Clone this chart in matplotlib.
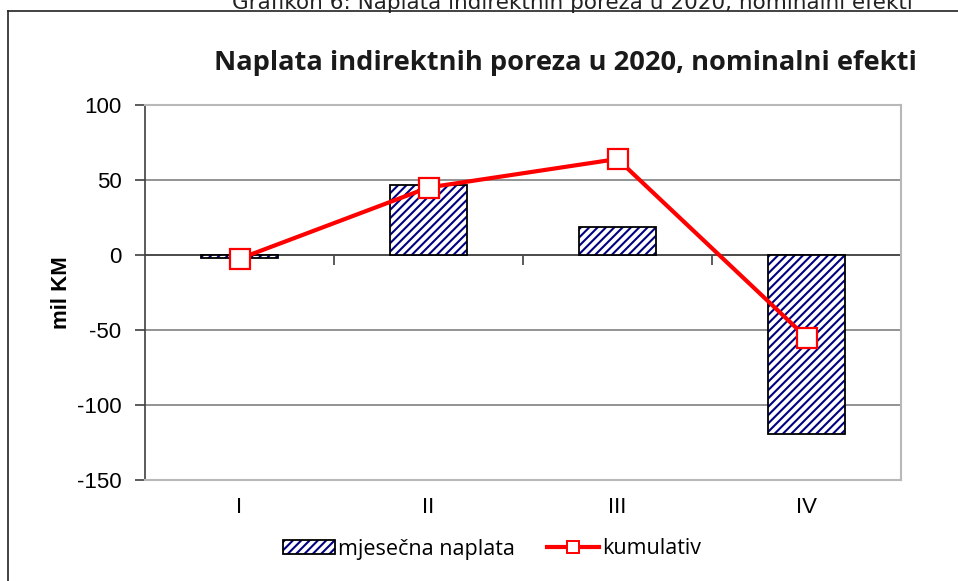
import matplotlib
matplotlib.use("Agg")
import matplotlib.pyplot as plt
from matplotlib.lines import Line2D
from matplotlib.legend_handler import HandlerTuple

categories = ["I", "II", "III", "IV"]
monthly = [-2, 47, 19, -119]
cumulative = [-2.5, 45, 64, -55]
yticks = [-150, -100, -50, 0, 50, 100]

plt.rcParams['hatch.linewidth'] = 1.5

fig = plt.figure(figsize=(9.58, 5.81), dpi=100)
ax = fig.add_axes([145/958, 1-480/581, (901-145)/958, (480-105)/581])

x = list(range(len(categories)))
b_hatch = ax.bar(x, monthly, width=0.41, color='white', edgecolor='#000080', hatch='////',
                 linewidth=0, zorder=3)
b_edge = ax.bar(x, monthly, width=0.41, fill=False, edgecolor='black',
                linewidth=1.3, zorder=3.1)
ln, = ax.plot(x, cumulative, color='#ff0000', lw=3, marker='s', markersize=14,
              markerfacecolor='white', markeredgecolor='#ff0000', markeredgewidth=1.6,
              zorder=4)

ax.set_xlim(-0.5, 3.5)
ax.set_ylim(-150, 100)
ax.set_yticks(yticks)
ax.set_yticklabels([str(v) for v in yticks], fontsize=16, family='Liberation Sans')
ax.set_xticks(x)
ax.set_xticklabels(categories, fontsize=16, family='Liberation Sans')
ax.tick_params(axis='x', length=0, pad=12)
ax.tick_params(axis='y', direction='out', length=7, color='#404040', width=1.2, pad=10)

ax.yaxis.grid(True, color='#808080', lw=1.2, zorder=1)
ax.axhline(0, color='#404040', lw=1.2, zorder=2)

for s in ['top', 'right', 'bottom']:
    ax.spines[s].set_color('#b8b8b8')
    ax.spines[s].set_linewidth(1.5)
ax.spines['left'].set_color('#404040')
ax.spines['left'].set_linewidth(1.2)

sec = ax.secondary_xaxis(0.6)
sec.set_xticks([0.5, 1.5, 2.5])
sec.set_xticklabels([])
sec.tick_params(direction='in', length=7, color='#404040', width=1.2)
for s in sec.spines.values():
    s.set_visible(False)

ax.set_ylabel('mil KM', fontsize=16, fontweight='bold', family='Liberation Sans')
ax.yaxis.set_label_coords(-0.097, 0.50)

fig.text(565/958, 1-63/581, 'Naplata indirektnih poreza u 2020, nominalni efekti',
         ha='center', va='center', fontsize=19.6, fontweight='bold', family='Open Sans',
         color='#1a1a1a')
fig.text(572/958, 1-9/581, 'Grafikon 6: Naplata indirektnih poreza u 2020, nominalni efekti',
         ha='center', va='baseline', fontsize=15.5, family='DejaVu Sans', color='#222222')

fig.add_artist(Line2D([8/958, 1.0], [1-11/581, 1-11/581], color='#222222', lw=1.2))
fig.add_artist(Line2D([8/958, 8/958], [0.0, 1-11/581], color='#222222', lw=1.2))

ln_proxy = Line2D([], [], color='#ff0000', lw=3, marker='s', markersize=9,
                  markerfacecolor='white', markeredgecolor='#ff0000', markeredgewidth=1.4)
leg = ax.legend([(b_hatch[0], b_edge[0]), ln_proxy], ['mjesečna naplata', 'kumulativ'],
                handler_map={tuple: HandlerTuple(ndivide=1)},
                loc='center', bbox_to_anchor=(492/958, 1-549/581),
                bbox_transform=fig.transFigure, ncol=2, frameon=False,
                prop={'family': 'Open Sans', 'size': 15.5}, handlelength=2.4,
                handleheight=0.6, handletextpad=0.15, columnspacing=1.5)

fig.savefig('out.png', dpi=100)
